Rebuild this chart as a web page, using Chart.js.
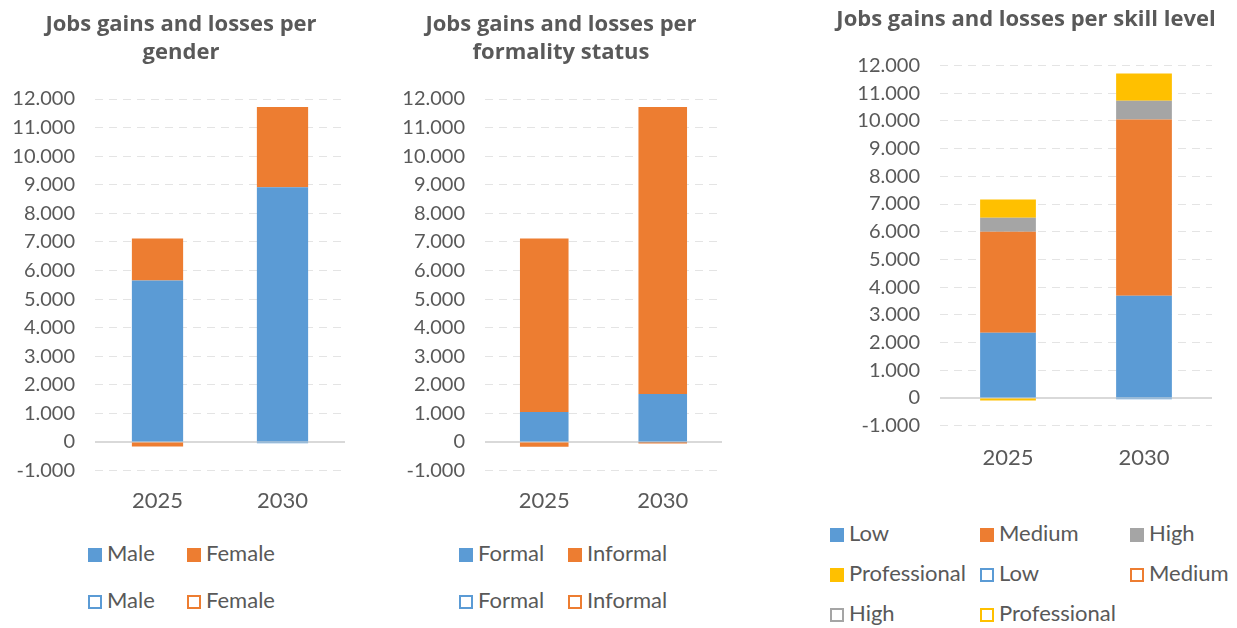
<!DOCTYPE html>
<html>
<head>
<meta charset="utf-8">
<script src="https://cdn.jsdelivr.net/npm/chart.js@4"></script>
<style>
  body { margin: 0; background: #fff; font-family: Lato, sans-serif; }
  .box { position: absolute; top: 0; }
  .legend { position: absolute; font-size: 22px; color: #595959; }
  .item { position: absolute; white-space: nowrap; line-height: 24px; }
  .mk { display: inline-block; width: 14px; height: 14px; margin-right: 5px; box-sizing: border-box; vertical-align: -1px; }
</style>
</head>
<body>
<div class="box" style="left:0;width:362px;height:523px"><canvas id="c1"></canvas></div>
<div class="box" style="left:395px;width:332px;height:523px"><canvas id="c2"></canvas></div>
<div class="box" style="left:815px;width:422px;height:482px"><canvas id="c3"></canvas></div>
<div id="l1" class="legend"></div>
<div id="l2" class="legend"></div>
<div id="l3" class="legend"></div>
<script>
const years = ['2025', '2030'];

// gender
const maleGain = [5650, 8910];
const femaleGain = [1470, 2810];
const maleLoss = [0, -40];
const femaleLoss = [-160, 0];

// formality
const formalGain = [1050, 1680];
const informalGain = [6070, 10040];
const formalLoss = [0, -10];
const informalLoss = [-170, -40];

// skill level
const lowGain = [2350, 3690];
const mediumGain = [3650, 6360];
const highGain = [500, 680];
const profGain = [660, 980];
const lowLoss = [-20, -50];
const mediumLoss = [0, 0];
const highLoss = [0, 0];
const profLoss = [-70, 0];

const yMin = -1000, yMax = 12000, yStep = 1000;

const BLUE = '#5B9BD5', ORANGE = '#ED7D31', GRAY = '#A5A5A5', YELLOW = '#FFC000';
const TXT = '#595959';

function fmt(v) {
  if (v === 0) return '0';
  const s = Math.abs(v).toString().replace(/\B(?=(\d{3})+(?!\d))/g, '.');
  return (v < 0 ? '-' : '') + s;
}

const zeroLine = {
  id: 'zeroLine',
  beforeDatasetsDraw(chart) {
    const y = chart.scales.y.getPixelForValue(0);
    const a = chart.chartArea;
    const ctx = chart.ctx;
    ctx.save();
    ctx.strokeStyle = '#D9D9D9';
    ctx.lineWidth = 2;
    ctx.beginPath();
    ctx.moveTo(a.left, y);
    ctx.lineTo(a.right, y);
    ctx.stroke();
    ctx.restore();
  }
};

function makeChart(id, title, sets, o) {
  const datasets = sets.map(s => ({
    label: s[0], data: s[1], backgroundColor: s[2],
    borderWidth: 0, stack: 'a', barPercentage: 0.41, categoryPercentage: 1
  }));
  return new Chart(document.getElementById(id), {
    type: 'bar',
    data: { labels: years, datasets: datasets },
    options: {
      responsive: true, maintainAspectRatio: false, animation: false,
      layout: { padding: { top: o.top, left: 0, right: 0, bottom: 0 } },
      plugins: {
        legend: { display: false },
        tooltip: { enabled: false },
        title: {
          display: true, text: title, color: TXT,
          font: { family: 'Open Sans', size: 22, weight: 'bold', lineHeight: 1.25 },
          padding: { top: 0, bottom: o.titleBottom }
        }
      },
      scales: {
        x: {
          stacked: true,
          grid: { display: false }, border: { display: false },
          ticks: { color: TXT, font: { family: 'Lato', size: 22 }, padding: o.xPad }
        },
        y: {
          stacked: true, min: yMin, max: yMax,
          afterFit: s => { s.width = o.yWidth; },
          ticks: { stepSize: yStep, color: TXT, font: { family: 'Lato', size: 20 }, padding: 20, callback: v => fmt(v) },
          grid: { color: '#E4E4E4', drawTicks: false, lineWidth: 1 },
          border: { display: false, dash: [8, 6] }
        },
        yr: {
          position: 'right', min: yMin, max: yMax,
          afterFit: s => { s.width = o.rWidth; },
          ticks: { display: false }, grid: { display: false }, border: { display: false }
        }
      }
    },
    plugins: [zeroLine]
  });
}

makeChart('c1', ['Jobs gains and losses per', 'gender'], [
  ['Male', maleGain, BLUE], ['Female', femaleGain, ORANGE],
  ['Male', maleLoss, BLUE], ['Female', femaleLoss, ORANGE]
], { top: 11, titleBottom: 33, xPad: 9, yWidth: 95, rWidth: 17 });

makeChart('c2', ['Jobs gains and losses per', 'formality status'], [
  ['Formal', formalGain, BLUE], ['Informal', informalGain, ORANGE],
  ['Formal', formalLoss, BLUE], ['Informal', informalLoss, ORANGE]
], { top: 11, titleBottom: 33, xPad: 9, yWidth: 90, rWidth: 5 });

makeChart('c3', 'Jobs gains and losses per skill level', [
  ['Low', lowGain, BLUE], ['Medium', mediumGain, ORANGE],
  ['High', highGain, GRAY], ['Professional', profGain, YELLOW],
  ['Low', lowLoss, BLUE], ['Medium', mediumLoss, ORANGE],
  ['High', highLoss, GRAY], ['Professional', profLoss, YELLOW]
], { top: 6, titleBottom: 32, xPad: 11, yWidth: 125, rWidth: 25 });

// legends: [label, color, filled, x, y]
function legend(id, items) {
  const el = document.getElementById(id);
  items.forEach(it => {
    const d = document.createElement('div');
    d.className = 'item';
    d.style.left = it[3] + 'px';
    d.style.top = (it[4] - 12) + 'px';
    const m = document.createElement('span');
    m.className = 'mk';
    if (it[2]) m.style.background = it[1];
    else m.style.border = '2px solid ' + it[1];
    d.appendChild(m);
    d.appendChild(document.createTextNode(it[0]));
    el.appendChild(d);
  });
}
legend('l1', [
  ['Male', BLUE, true, 88, 553], ['Female', ORANGE, true, 187, 553],
  ['Male', BLUE, false, 88, 600], ['Female', ORANGE, false, 187, 600]
]);
legend('l2', [
  ['Formal', BLUE, true, 459, 553], ['Informal', ORANGE, true, 568, 553],
  ['Formal', BLUE, false, 459, 600], ['Informal', ORANGE, false, 568, 600]
]);
legend('l3', [
  ['Low', BLUE, true, 830, 533], ['Medium', ORANGE, true, 980, 533], ['High', GRAY, true, 1130, 533],
  ['Professional', YELLOW, true, 830, 573], ['Low', BLUE, false, 980, 573], ['Medium', ORANGE, false, 1130, 573],
  ['High', GRAY, false, 830, 613], ['Professional', YELLOW, false, 980, 613]
]);
</script>
</body>
</html>
